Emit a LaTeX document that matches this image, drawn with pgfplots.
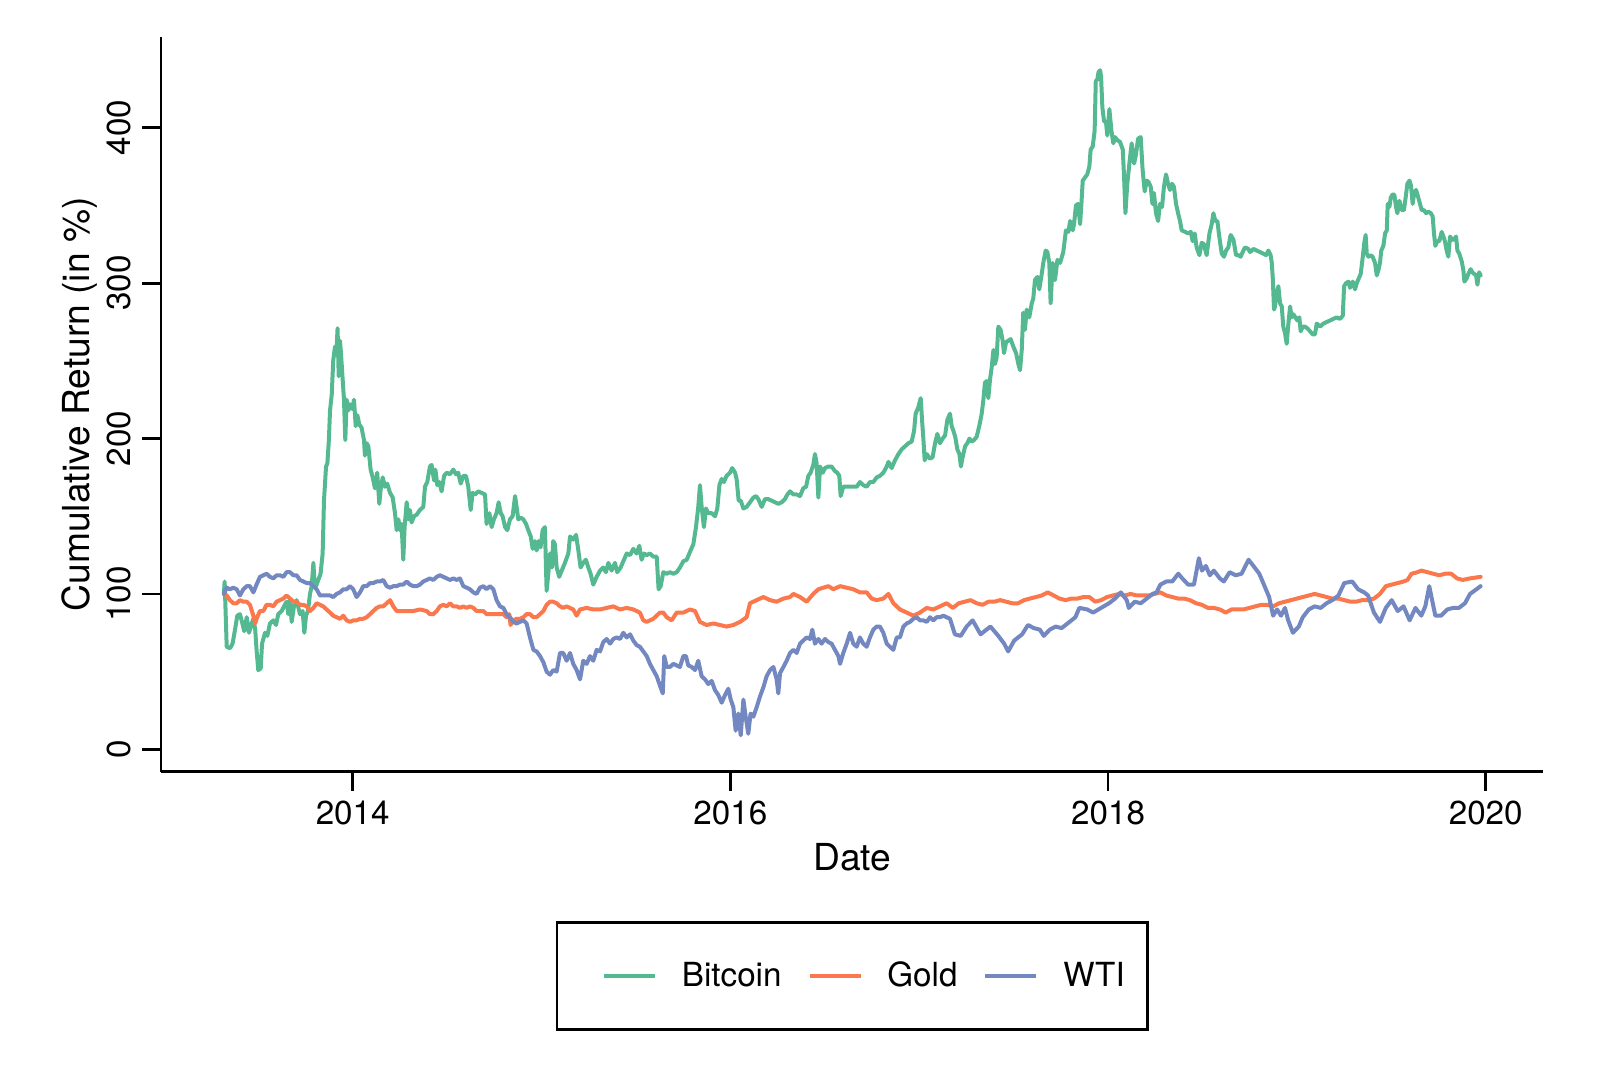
\documentclass[border=0pt]{standalone}
\usepackage{fontspec}
\setmainfont{TeX Gyre Heros}
\usepackage{pgfplots}
\pgfplotsset{compat=1.18}
\usepackage{pgfplotstable}
\definecolor{cbtc}{RGB}{84,185,145}
\definecolor{cgold}{RGB}{250,120,75}
\definecolor{cwti}{RGB}{115,136,192}
\pgfplotstableread[row sep=\\]{
t v\\
2013.318 100\\ 2013.322 108\\ 2013.333 66\\ 2013.350 65\\ 2013.364 68\\ 2013.377 77\\ 2013.389 86\\ 2013.403 87\\ 2013.414 82\\ 2013.426 76\\
2013.439 85\\ 2013.451 75\\ 2013.463 80\\ 2013.474 84\\ 2013.484 77\\ 2013.491 64\\ 2013.500 51\\ 2013.513 52\\ 2013.520 68\\ 2013.536 75\\
2013.548 73\\ 2013.562 81\\ 2013.580 83\\ 2013.594 80\\ 2013.606 87\\ 2013.624 89\\ 2013.636 92\\ 2013.650 95\\ 2013.659 87\\ 2013.668 96\\
2013.677 82\\ 2013.689 92\\ 2013.703 96\\ 2013.721 87\\ 2013.735 89\\ 2013.744 75\\ 2013.753 86\\ 2013.763 89\\ 2013.774 100\\ 2013.783 105\\
2013.792 120\\ 2013.799 105\\ 2013.806 105\\ 2013.818 109\\ 2013.830 113\\ 2013.841 126\\ 2013.848 160\\ 2013.859 182\\ 2013.866 184\\ 2013.874 199\\
2013.880 218\\ 2013.889 228\\ 2013.897 250\\ 2013.906 259\\ 2013.915 258\\ 2013.920 271\\ 2013.926 240\\ 2013.933 263\\ 2013.938 255\\ 2013.947 238\\
2013.954 225\\ 2013.961 199\\ 2013.968 225\\ 2013.977 218\\ 2013.986 222\\ 2013.998 219\\ 2014.007 225\\ 2014.016 208\\ 2014.025 215\\ 2014.035 209\\
2014.047 207\\ 2014.060 199\\ 2014.065 189\\ 2014.074 197\\ 2014.083 195\\ 2014.095 180\\ 2014.106 175\\ 2014.118 168\\ 2014.130 178\\ 2014.141 158\\
2014.148 167\\ 2014.159 175\\ 2014.171 169\\ 2014.183 171\\ 2014.198 165\\ 2014.212 162\\ 2014.224 152\\ 2014.233 141\\ 2014.242 148\\ 2014.251 141\\
2014.259 145\\ 2014.268 122\\ 2014.275 143\\ 2014.286 159\\ 2014.295 148\\ 2014.303 154\\ 2014.312 146\\ 2014.325 150\\ 2014.339 151\\ 2014.356 154\\
2014.374 156\\ 2014.383 169\\ 2014.395 172\\ 2014.409 182\\ 2014.418 183\\ 2014.431 173\\ 2014.438 180\\ 2014.448 170\\ 2014.459 172\\ 2014.471 166\\
2014.484 176\\ 2014.498 178\\ 2014.515 177\\ 2014.533 180\\ 2014.547 177\\ 2014.559 178\\ 2014.572 171\\ 2014.586 176\\ 2014.600 176\\ 2014.612 169\\
2014.625 154\\ 2014.635 165\\ 2014.648 164\\ 2014.665 166\\ 2014.683 165\\ 2014.701 164\\ 2014.709 145\\ 2014.724 152\\ 2014.736 143\\ 2014.748 148\\
2014.762 152\\ 2014.773 159\\ 2014.784 152\\ 2014.794 150\\ 2014.807 143\\ 2014.819 141\\ 2014.833 148\\ 2014.847 150\\ 2014.860 163\\ 2014.868 156\\
2014.877 148\\ 2014.890 149\\ 2014.904 148\\ 2014.918 145\\ 2014.930 141\\ 2014.943 137\\ 2014.953 129\\ 2014.965 134\\ 2014.974 128\\ 2014.985 134\\
2014.995 130\\ 2015.006 141\\ 2015.018 143\\ 2015.027 102\\ 2015.036 113\\ 2015.045 126\\ 2015.055 117\\ 2015.062 134\\ 2015.071 132\\ 2015.080 117\\
2015.094 111\\ 2015.107 115\\ 2015.124 120\\ 2015.142 126\\ 2015.151 137\\ 2015.168 135\\ 2015.183 138\\ 2015.195 128\\ 2015.207 117\\ 2015.221 120\\
2015.235 122\\ 2015.248 117\\ 2015.260 113\\ 2015.274 106\\ 2015.292 111\\ 2015.310 115\\ 2015.327 117\\ 2015.341 114\\ 2015.354 120\\ 2015.371 115\\
2015.389 120\\ 2015.401 114\\ 2015.419 117\\ 2015.433 121\\ 2015.451 126\\ 2015.469 125\\ 2015.486 129\\ 2015.504 126\\ 2015.518 131\\ 2015.530 122\\
2015.543 126\\ 2015.557 125\\ 2015.574 126\\ 2015.592 124\\ 2015.610 124\\ 2015.620 103\\ 2015.631 105\\ 2015.645 114\\ 2015.663 113\\ 2015.680 114\\
2015.698 113\\ 2015.716 114\\ 2015.733 117\\ 2015.751 121\\ 2015.769 122\\ 2015.786 127\\ 2015.804 132\\ 2015.818 143\\ 2015.830 156\\ 2015.839 170\\
2015.848 156\\ 2015.860 143\\ 2015.871 155\\ 2015.883 152\\ 2015.901 152\\ 2015.919 150\\ 2015.931 155\\ 2015.942 170\\ 2015.954 174\\ 2015.966 172\\
2015.980 176\\ 2015.998 178\\ 2016.010 181\\ 2016.025 178\\ 2016.033 174\\ 2016.044 160\\ 2016.055 160\\ 2016.069 155\\ 2016.086 156\\ 2016.104 159\\
2016.122 162\\ 2016.136 163\\ 2016.148 161\\ 2016.166 156\\ 2016.183 161\\ 2016.201 161\\ 2016.219 160\\ 2016.236 159\\ 2016.254 158\\ 2016.272 159\\
2016.289 161\\ 2016.302 164\\ 2016.316 166\\ 2016.334 164\\ 2016.351 164\\ 2016.369 163\\ 2016.386 168\\ 2016.401 169\\ 2016.413 176\\ 2016.425 178\\
2016.439 183\\ 2016.448 190\\ 2016.457 184\\ 2016.466 162\\ 2016.475 182\\ 2016.489 178\\ 2016.501 181\\ 2016.519 182\\ 2016.536 182\\ 2016.554 179\\
2016.566 178\\ 2016.577 176\\ 2016.584 163\\ 2016.598 169\\ 2016.616 169\\ 2016.634 169\\ 2016.651 169\\ 2016.669 169\\ 2016.686 172\\ 2016.704 170\\
2016.722 169\\ 2016.739 172\\ 2016.757 172\\ 2016.775 175\\ 2016.792 176\\ 2016.810 178\\ 2016.828 182\\ 2016.837 185\\ 2016.854 181\\ 2016.872 186\\
2016.890 190\\ 2016.907 193\\ 2016.925 195\\ 2016.943 197\\ 2016.960 198\\ 2016.973 205\\ 2016.981 216\\ 2016.995 220\\ 2017.008 226\\ 2017.015 212\\
2017.022 200\\ 2017.029 186\\ 2017.040 190\\ 2017.057 187\\ 2017.071 188\\ 2017.084 197\\ 2017.096 203\\ 2017.110 197\\ 2017.124 200\\ 2017.137 202\\
2017.149 212\\ 2017.163 216\\ 2017.172 208\\ 2017.181 205\\ 2017.191 201\\ 2017.202 193\\ 2017.213 190\\ 2017.221 182\\ 2017.230 188\\ 2017.243 195\\
2017.255 197\\ 2017.266 200\\ 2017.278 198\\ 2017.290 199\\ 2017.304 201\\ 2017.318 208\\ 2017.331 216\\ 2017.340 225\\ 2017.348 236\\ 2017.357 237\\
2017.366 226\\ 2017.375 238\\ 2017.384 246\\ 2017.393 257\\ 2017.401 248\\ 2017.410 252\\ 2017.419 272\\ 2017.431 270\\ 2017.442 263\\ 2017.449 255\\
2017.460 262\\ 2017.472 263\\ 2017.484 264\\ 2017.499 259\\ 2017.513 255\\ 2017.525 248\\ 2017.534 244\\ 2017.543 257\\ 2017.551 281\\ 2017.560 270\\
2017.569 283\\ 2017.583 278\\ 2017.596 287\\ 2017.604 290\\ 2017.613 302\\ 2017.626 304\\ 2017.636 296\\ 2017.649 306\\ 2017.657 313\\ 2017.670 321\\
2017.679 320\\ 2017.689 313\\ 2017.696 287\\ 2017.707 313\\ 2017.719 302\\ 2017.732 315\\ 2017.746 313\\ 2017.763 320\\ 2017.777 334\\ 2017.790 333\\
2017.799 340\\ 2017.813 334\\ 2017.820 338\\ 2017.830 350\\ 2017.841 351\\ 2017.852 338\\ 2017.859 351\\ 2017.866 366\\ 2017.878 368\\ 2017.890 370\\
2017.901 375\\ 2017.908 386\\ 2017.919 388\\ 2017.929 398\\ 2017.935 430\\ 2017.943 431\\ 2017.950 436\\ 2017.958 437\\ 2017.963 433\\ 2017.970 413\\
2017.979 404\\ 2017.989 404\\ 2017.996 395\\ 2018.007 412\\ 2018.018 398\\ 2018.028 390\\ 2018.037 394\\ 2018.049 392\\ 2018.063 391\\ 2018.078 386\\
2018.085 368\\ 2018.092 345\\ 2018.102 364\\ 2018.113 377\\ 2018.125 390\\ 2018.138 377\\ 2018.148 383\\ 2018.159 393\\ 2018.173 394\\ 2018.183 373\\
2018.194 359\\ 2018.205 366\\ 2018.215 365\\ 2018.226 362\\ 2018.235 351\\ 2018.243 358\\ 2018.254 345\\ 2018.265 340\\ 2018.275 351\\ 2018.286 349\\
2018.296 362\\ 2018.307 370\\ 2018.318 364\\ 2018.328 360\\ 2018.339 364\\ 2018.349 362\\ 2018.360 351\\ 2018.371 345\\ 2018.381 340\\ 2018.390 334\\
2018.408 333\\ 2018.425 332\\ 2018.438 333\\ 2018.448 327\\ 2018.459 332\\ 2018.469 323\\ 2018.484 318\\ 2018.496 326\\ 2018.508 325\\ 2018.522 318\\
2018.537 332\\ 2018.549 338\\ 2018.558 345\\ 2018.568 340\\ 2018.579 340\\ 2018.589 330\\ 2018.602 319\\ 2018.614 317\\ 2018.625 321\\ 2018.637 323\\
2018.649 331\\ 2018.664 328\\ 2018.678 318\\ 2018.690 318\\ 2018.702 317\\ 2018.713 320\\ 2018.725 323\\ 2018.743 322\\ 2018.752 320\\ 2018.770 322\\
2018.787 321\\ 2018.805 320\\ 2018.822 319\\ 2018.837 318\\ 2018.849 321\\ 2018.861 318\\ 2018.867 313\\ 2018.872 304\\ 2018.879 283\\ 2018.884 285\\
2018.893 294\\ 2018.902 298\\ 2018.911 287\\ 2018.920 285\\ 2018.928 272\\ 2018.937 268\\ 2018.946 261\\ 2018.955 274\\ 2018.964 285\\ 2018.972 278\\
2018.981 280\\ 2018.992 278\\ 2019.002 276\\ 2019.013 278\\ 2019.020 269\\ 2019.031 272\\ 2019.043 272\\ 2019.055 271\\ 2019.070 269\\ 2019.084 267\\
2019.096 267\\ 2019.105 274\\ 2019.123 272\\ 2019.140 274\\ 2019.158 275\\ 2019.176 276\\ 2019.193 277\\ 2019.211 278\\ 2019.228 277\\ 2019.243 279\\
2019.250 298\\ 2019.260 300\\ 2019.273 301\\ 2019.281 297\\ 2019.296 301\\ 2019.308 296\\ 2019.317 300\\ 2019.331 304\\ 2019.338 306\\ 2019.349 317\\
2019.357 326\\ 2019.364 331\\ 2019.370 319\\ 2019.379 317\\ 2019.391 318\\ 2019.401 317\\ 2019.414 313\\ 2019.423 305\\ 2019.431 308\\ 2019.440 313\\
2019.447 321\\ 2019.458 324\\ 2019.467 332\\ 2019.476 334\\ 2019.481 351\\ 2019.490 349\\ 2019.497 355\\ 2019.506 357\\ 2019.516 357\\ 2019.525 349\\
2019.532 345\\ 2019.543 353\\ 2019.555 347\\ 2019.567 347\\ 2019.578 357\\ 2019.585 364\\ 2019.596 366\\ 2019.604 363\\ 2019.613 351\\ 2019.620 357\\
2019.631 360\\ 2019.643 355\\ 2019.652 351\\ 2019.661 347\\ 2019.673 347\\ 2019.684 345\\ 2019.696 346\\ 2019.709 345\\ 2019.719 343\\ 2019.726 332\\
2019.733 324\\ 2019.744 327\\ 2019.754 327\\ 2019.767 333\\ 2019.776 330\\ 2019.784 327\\ 2019.793 321\\ 2019.802 317\\ 2019.811 330\\ 2019.822 328\\
2019.832 328\\ 2019.843 330\\ 2019.850 321\\ 2019.860 319\\ 2019.873 314\\ 2019.882 308\\ 2019.887 301\\ 2019.899 303\\ 2019.908 306\\ 2019.920 309\\
2019.929 307\\ 2019.938 306\\ 2019.949 305\\ 2019.956 299\\ 2019.965 307\\ 2019.973 305\\
}\btcdata
\pgfplotstableread[row sep=\\]{
t v\\
2013.318 100\\ 2013.333 99\\ 2013.350 96\\ 2013.368 94\\ 2013.386 94\\ 2013.403 96\\ 2013.421 95\\ 2013.439 95\\ 2013.456 93\\ 2013.474 86\\
2013.484 81\\ 2013.491 84\\ 2013.509 89\\ 2013.527 89\\ 2013.544 93\\ 2013.562 93\\ 2013.580 92\\ 2013.597 95\\ 2013.615 96\\ 2013.633 97\\
2013.650 99\\ 2013.668 97\\ 2013.686 95\\ 2013.703 95\\ 2013.721 93\\ 2013.739 93\\ 2013.756 92\\ 2013.774 89\\ 2013.792 91\\ 2013.809 94\\
2013.827 93\\ 2013.844 92\\ 2013.862 90\\ 2013.880 88\\ 2013.897 86\\ 2013.915 85\\ 2013.933 84\\ 2013.950 86\\ 2013.968 83\\ 2013.986 82\\
2014.003 83\\ 2014.021 83\\ 2014.039 84\\ 2014.056 84\\ 2014.074 85\\ 2014.092 87\\ 2014.109 89\\ 2014.127 91\\ 2014.145 92\\ 2014.162 92\\
2014.180 94\\ 2014.198 96\\ 2014.215 92\\ 2014.233 89\\ 2014.251 89\\ 2014.286 89\\ 2014.321 89\\ 2014.356 90\\ 2014.392 89\\ 2014.409 87\\
2014.427 87\\ 2014.445 89\\ 2014.462 92\\ 2014.480 93\\ 2014.498 92\\ 2014.515 94\\ 2014.533 92\\ 2014.551 92\\ 2014.568 91\\ 2014.586 92\\
2014.604 91\\ 2014.621 92\\ 2014.639 91\\ 2014.656 89\\ 2014.674 89\\ 2014.692 89\\ 2014.709 87\\ 2014.727 87\\ 2014.762 87\\ 2014.798 87\\
2014.815 85\\ 2014.829 87\\ 2014.836 80\\ 2014.851 83\\ 2014.868 84\\ 2014.886 84\\ 2014.904 85\\ 2014.921 87\\ 2014.939 87\\ 2014.957 85\\
2014.974 85\\ 2014.992 87\\ 2015.010 89\\ 2015.027 93\\ 2015.045 95\\ 2015.062 95\\ 2015.080 94\\ 2015.098 92\\ 2015.115 91\\ 2015.133 92\\
2015.168 90\\ 2015.186 86\\ 2015.204 90\\ 2015.239 91\\ 2015.274 90\\ 2015.310 90\\ 2015.345 91\\ 2015.380 92\\ 2015.416 90\\ 2015.451 91\\
2015.486 90\\ 2015.521 88\\ 2015.539 83\\ 2015.557 82\\ 2015.592 84\\ 2015.627 88\\ 2015.645 88\\ 2015.663 85\\ 2015.689 83\\ 2015.716 88\\
2015.751 88\\ 2015.786 90\\ 2015.813 89\\ 2015.839 82\\ 2015.874 80\\ 2015.910 81\\ 2015.945 80\\ 2015.980 79\\ 2016.016 80\\ 2016.051 82\\
2016.086 85\\ 2016.104 94\\ 2016.139 96\\ 2016.175 98\\ 2016.210 96\\ 2016.245 95\\ 2016.281 97\\ 2016.316 98\\ 2016.334 100\\ 2016.369 98\\
2016.404 95\\ 2016.439 100\\ 2016.466 103\\ 2016.492 104\\ 2016.519 105\\ 2016.545 103\\ 2016.581 105\\ 2016.616 104\\ 2016.651 103\\ 2016.686 101\\
2016.722 101\\ 2016.748 97\\ 2016.775 96\\ 2016.810 97\\ 2016.837 100\\ 2016.863 94\\ 2016.898 90\\ 2016.934 88\\ 2016.969 86\\ 2017.004 88\\
2017.040 91\\ 2017.075 90\\ 2017.110 92\\ 2017.145 94\\ 2017.178 91\\ 2017.210 94\\ 2017.241 95\\ 2017.272 96\\ 2017.304 94\\ 2017.335 93\\
2017.367 95\\ 2017.398 95\\ 2017.429 96\\ 2017.461 95\\ 2017.492 94\\ 2017.524 94\\ 2017.555 96\\ 2017.586 97\\ 2017.618 98\\ 2017.649 99\\
2017.681 101\\ 2017.712 99\\ 2017.743 97\\ 2017.775 96\\ 2017.806 97\\ 2017.838 97\\ 2017.869 98\\ 2017.901 98\\ 2017.932 95\\ 2017.963 96\\
2017.995 98\\ 2018.026 99\\ 2018.058 100\\ 2018.089 99\\ 2018.120 100\\ 2018.152 99\\ 2018.183 99\\ 2018.215 99\\ 2018.246 100\\ 2018.277 101\\
2018.309 99\\ 2018.340 98\\ 2018.372 97\\ 2018.403 97\\ 2018.434 96\\ 2018.466 94\\ 2018.497 93\\ 2018.529 91\\ 2018.560 91\\ 2018.592 90\\
2018.623 88\\ 2018.654 90\\ 2018.686 90\\ 2018.717 90\\ 2018.749 91\\ 2018.780 92\\ 2018.811 93\\ 2018.843 93\\ 2018.874 92\\ 2018.906 94\\
2018.937 95\\ 2018.968 96\\ 2019.000 97\\ 2019.031 98\\ 2019.063 99\\ 2019.094 100\\ 2019.126 99\\ 2019.157 98\\ 2019.188 97\\ 2019.220 97\\
2019.251 96\\ 2019.283 95\\ 2019.314 95\\ 2019.345 96\\ 2019.377 96\\ 2019.408 97\\ 2019.440 100\\ 2019.471 105\\ 2019.502 106\\ 2019.534 107\\
2019.565 108\\ 2019.586 109\\ 2019.607 113\\ 2019.639 114\\ 2019.659 115\\ 2019.691 114\\ 2019.722 113\\ 2019.754 112\\ 2019.785 113\\ 2019.817 113\\
2019.848 110\\ 2019.879 109\\ 2019.917 110\\ 2019.973 111\\
}\golddata
\pgfplotstableread[row sep=\\]{
t v\\
2013.318 100\\ 2013.333 104\\ 2013.350 103\\ 2013.368 104\\ 2013.386 103\\ 2013.403 99\\ 2013.421 103\\ 2013.439 105\\ 2013.456 105\\ 2013.474 101\\
2013.491 106\\ 2013.509 111\\ 2013.527 112\\ 2013.544 113\\ 2013.562 111\\ 2013.580 110\\ 2013.597 112\\ 2013.615 112\\ 2013.633 111\\ 2013.650 114\\
2013.668 114\\ 2013.686 112\\ 2013.703 112\\ 2013.721 109\\ 2013.739 108\\ 2013.756 107\\ 2013.774 107\\ 2013.792 105\\ 2013.809 103\\ 2013.827 99\\
2013.844 99\\ 2013.862 99\\ 2013.880 99\\ 2013.897 98\\ 2013.915 100\\ 2013.933 101\\ 2013.950 103\\ 2013.968 103\\ 2013.986 105\\ 2014.003 103\\
2014.021 98\\ 2014.039 101\\ 2014.056 105\\ 2014.074 105\\ 2014.092 107\\ 2014.109 107\\ 2014.127 108\\ 2014.145 108\\ 2014.162 109\\ 2014.180 105\\
2014.198 104\\ 2014.215 105\\ 2014.233 105\\ 2014.251 106\\ 2014.268 106\\ 2014.286 108\\ 2014.303 106\\ 2014.321 105\\ 2014.339 105\\ 2014.356 106\\
2014.374 108\\ 2014.392 109\\ 2014.409 110\\ 2014.427 109\\ 2014.445 111\\ 2014.462 112\\ 2014.480 111\\ 2014.498 110\\ 2014.515 109\\ 2014.533 110\\
2014.551 109\\ 2014.568 110\\ 2014.586 105\\ 2014.604 104\\ 2014.621 103\\ 2014.639 101\\ 2014.656 100\\ 2014.674 104\\ 2014.692 105\\ 2014.709 103\\
2014.727 105\\ 2014.745 103\\ 2014.762 96\\ 2014.780 92\\ 2014.798 91\\ 2014.815 87\\ 2014.833 85\\ 2014.851 82\\ 2014.868 81\\ 2014.886 82\\
2014.904 83\\ 2014.921 81\\ 2014.939 72\\ 2014.957 64\\ 2014.974 63\\ 2014.992 60\\ 2015.010 56\\ 2015.027 50\\ 2015.045 48\\ 2015.062 51\\
2015.080 50\\ 2015.098 62\\ 2015.115 62\\ 2015.133 57\\ 2015.151 62\\ 2015.168 55\\ 2015.186 51\\ 2015.204 45\\ 2015.221 57\\ 2015.239 55\\
2015.257 60\\ 2015.274 57\\ 2015.292 64\\ 2015.310 63\\ 2015.327 69\\ 2015.345 71\\ 2015.363 68\\ 2015.380 71\\ 2015.398 72\\ 2015.416 71\\
2015.433 75\\ 2015.451 72\\ 2015.469 74\\ 2015.486 70\\ 2015.504 67\\ 2015.521 66\\ 2015.539 63\\ 2015.557 60\\ 2015.574 55\\ 2015.592 51\\
2015.610 47\\ 2015.627 41\\ 2015.642 36\\ 2015.650 60\\ 2015.663 53\\ 2015.680 53\\ 2015.698 55\\ 2015.716 54\\ 2015.733 53\\ 2015.751 60\\
2015.765 60\\ 2015.777 54\\ 2015.795 53\\ 2015.813 51\\ 2015.830 57\\ 2015.848 47\\ 2015.866 45\\ 2015.883 42\\ 2015.901 44\\ 2015.919 38\\
2015.936 35\\ 2015.954 30\\ 2015.972 35\\ 2015.989 39\\ 2016.002 32\\ 2016.016 27\\ 2016.028 12\\ 2016.042 23\\ 2016.055 9\\ 2016.069 32\\
2016.081 21\\ 2016.095 10\\ 2016.107 23\\ 2016.122 21\\ 2016.139 27\\ 2016.157 34\\ 2016.175 40\\ 2016.192 47\\ 2016.210 51\\ 2016.228 53\\
2016.245 45\\ 2016.254 36\\ 2016.263 49\\ 2016.281 53\\ 2016.298 57\\ 2016.316 62\\ 2016.334 64\\ 2016.351 62\\ 2016.369 68\\ 2016.386 70\\
2016.404 72\\ 2016.422 71\\ 2016.434 77\\ 2016.448 68\\ 2016.466 71\\ 2016.483 68\\ 2016.501 71\\ 2016.519 69\\ 2016.536 68\\ 2016.554 64\\
2016.572 60\\ 2016.581 55\\ 2016.598 62\\ 2016.616 68\\ 2016.634 75\\ 2016.651 68\\ 2016.669 66\\ 2016.686 72\\ 2016.704 68\\ 2016.722 66\\
2016.739 72\\ 2016.757 77\\ 2016.775 79\\ 2016.792 79\\ 2016.810 75\\ 2016.828 68\\ 2016.845 66\\ 2016.863 64\\ 2016.881 72\\ 2016.898 72\\
2016.916 79\\ 2016.934 81\\ 2016.951 82\\ 2016.969 84\\ 2016.987 85\\ 2017.004 83\\ 2017.022 83\\ 2017.040 82\\ 2017.057 85\\ 2017.075 83\\
2017.092 85\\ 2017.110 85\\ 2017.128 86\\ 2017.145 85\\ 2017.163 84\\ 2017.189 74\\ 2017.220 73\\ 2017.251 79\\ 2017.283 83\\ 2017.325 74\\
2017.377 79\\ 2017.419 73\\ 2017.450 68\\ 2017.471 63\\ 2017.503 70\\ 2017.545 74\\ 2017.576 80\\ 2017.607 78\\ 2017.639 77\\ 2017.660 73\\
2017.691 77\\ 2017.723 79\\ 2017.754 78\\ 2017.796 82\\ 2017.827 85\\ 2017.848 91\\ 2017.890 90\\ 2017.921 88\\ 2017.963 91\\ 2018.005 94\\
2018.037 97\\ 2018.068 101\\ 2018.099 96\\ 2018.110 91\\ 2018.141 95\\ 2018.173 94\\ 2018.215 98\\ 2018.236 100\\ 2018.257 101\\ 2018.277 106\\
2018.309 108\\ 2018.340 108\\ 2018.372 113\\ 2018.393 110\\ 2018.424 106\\ 2018.455 106\\ 2018.481 123\\ 2018.497 115\\ 2018.518 118\\ 2018.539 112\\
2018.560 115\\ 2018.592 110\\ 2018.613 108\\ 2018.644 114\\ 2018.675 112\\ 2018.707 113\\ 2018.744 122\\ 2018.770 118\\ 2018.801 113\\ 2018.822 107\\
2018.853 98\\ 2018.874 86\\ 2018.895 90\\ 2018.916 86\\ 2018.937 91\\ 2018.954 83\\ 2018.979 75\\ 2019.010 79\\ 2019.031 85\\ 2019.063 90\\
2019.094 92\\ 2019.126 91\\ 2019.157 94\\ 2019.188 96\\ 2019.220 99\\ 2019.251 107\\ 2019.293 108\\ 2019.324 103\\ 2019.356 101\\ 2019.377 99\\
2019.408 88\\ 2019.440 82\\ 2019.471 91\\ 2019.502 96\\ 2019.534 89\\ 2019.565 92\\ 2019.597 83\\ 2019.628 91\\ 2019.659 86\\ 2019.680 92\\
2019.701 105\\ 2019.733 86\\ 2019.764 86\\ 2019.796 90\\ 2019.827 91\\ 2019.858 91\\ 2019.890 94\\ 2019.917 100\\ 2019.973 105\\
}\wtidata
\begin{document}
\begin{tikzpicture}
\useasboundingbox (0pt,0pt) rectangle (800pt,-533.5pt);
\begin{axis}[
  at={(80.5pt,-385.75pt)}, anchor=south west,
  scale only axis, width=691.15pt, height=367.25pt,
  xmin=2012.985, xmax=2020.305, ymin=-14.29, ymax=458.4,
  axis x line*=bottom, axis y line*=left,
  axis line style={line width=1.35pt, black},
  tick style={line width=1.35pt, black},
  tick align=outside, major tick length=9.5pt,
  xtick={2014,2016,2018,2020}, xticklabels={2014,2016,2018,2020},
  ytick={0,100,200,300,400}, yticklabels={0,100,200,300,400},
  minor tick num=0,
  xticklabel style={font=\fontsize{16.6}{19}\selectfont, anchor=base, yshift=-16.75pt},
  yticklabel style={font=\fontsize{16.6}{19}\selectfont, xshift=-6pt, rotate=90, anchor=base},
  xlabel={Date}, ylabel={Cumulative Return (in \%)},
  every axis x label/.style={at={(axis description cs:0.5,-0.1341)}, anchor=base, font=\fontsize{18.6}{22}\selectfont},
  every axis y label/.style={at={(axis description cs:-0.0514,0.5)}, rotate=90, anchor=base, font=\fontsize{18.6}{22}\selectfont},
  legend columns=3,
  legend cell align=left,
  legend image code/.code={\path[draw=none, fill=none] (-12.3pt,0pt) -- (0pt,0pt); \draw[#1, line width=1.8pt, line cap=butt] (0pt,0pt) -- (25.5pt,0pt);},
  legend style={at={(axis description cs:0.5,-0.2035)}, anchor=north,
    draw=black, line width=1.35pt, inner xsep=11.2pt, inner ysep=19.8pt,
    font=\fontsize{16.6}{19}\selectfont,
    nodes={inner sep=0pt},
    /tikz/every odd column/.append style={column sep=12.5pt},
    /tikz/every even column/.append style={column sep=1.7pt}},
]
\addplot[cbtc, line width=2pt, line join=round, line cap=round] table[x=t, y=v] {\btcdata};
\addlegendentry{Bitcoin}
\addplot[cgold, line width=2pt, line join=round, line cap=round] table[x=t, y=v] {\golddata};
\addlegendentry{Gold}
\addplot[cwti, line width=2pt, line join=round, line cap=round] table[x=t, y=v] {\wtidata};
\addlegendentry{WTI}
\end{axis}
\end{tikzpicture}
\end{document}
